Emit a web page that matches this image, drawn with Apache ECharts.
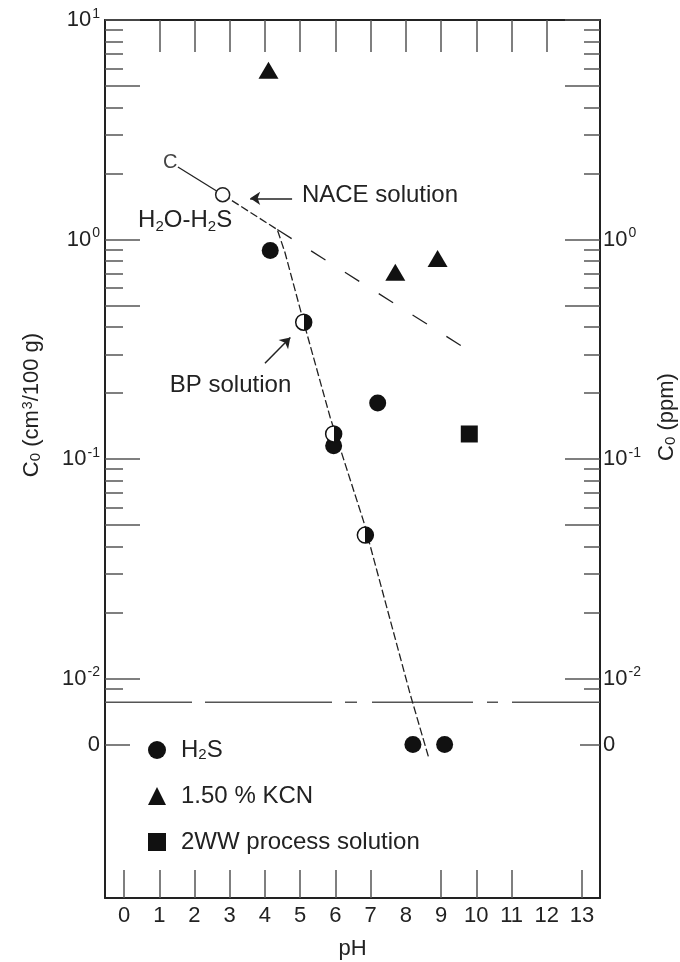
<!DOCTYPE html>
<html>
<head>
<meta charset="utf-8">
<script src="https://cdn.jsdelivr.net/npm/echarts@6/dist/echarts.min.js"></script>
<style>
  html, body { margin: 0; padding: 0; background: #fff; }
  #chart { width: 680px; height: 962px; }
</style>
</head>
<body>
<div id="chart"></div>
<script>
'use strict'

// broken log axis: the "0" row sits below the break at this axis value
const ZERO_AT = 0.005
const BREAK_AT = 0.0078

// pH, C0 (cm3/100 g)  -- value 0 means the "0" row
const h2sFilled = [[4.15, 0.89], [7.2, 0.18], [5.95, 0.115], [8.2, 0], [9.1, 0]]
const h2sHalf = [[5.1, 0.42], [5.95, 0.13], [6.85, 0.045]]
const naceOpen = [[2.8, 1.6]]
const kcn = [[4.1, 5.9], [7.7, 0.71], [8.9, 0.82]]
const process2ww = [[9.8, 0.13]]

// trend lines
const h2oLine = [[1.53, 2.14], [2.8, 1.6]]
const h2sLine = [[2.8, 1.6], [4.35, 1.11], [4.57, 0.87], [5.1, 0.42], [5.85, 0.155], [6.8, 0.052], [8.13, 0.0084], [8.64, 0.0044]]
const kcnLine = [[4.35, 1.11], [10.1, 0.29]]
const breakLine = [[-0.54, BREAK_AT], [13.51, BREAK_AT]]

// text notes and pointers
const noteText = ['C', 'H{sub|2}O-H{sub|2}S', 'NACE solution', 'BP solution']
const noteAt = [[1.31, 2.25], [0.4, 1.22], [5.05, 1.59], [1.3, 0.217]]
const nacePointer = [[4.77, 1.54], [3.58, 1.54]]
const bpPointer = [[4.0, 0.273], [4.72, 0.358]]

// axis ticks
const phLabels = [0, 1, 2, 3, 4, 5, 6, 7, 8, 9, 10, 11, 12, 13]
const phTicksBottom = [0, 1, 2, 3, 4, 5, 6, 7, 9, 10, 11, 13]
const phTicksTop = [1, 2, 3, 4, 5, 6, 7, 8, 9, 10, 11, 12]
const yLong = [10, 5, 1, 0.5, 0.1, 0.05, 0.01]
const yMinor = [9, 8, 7, 6, 4, 3, 2, 0.9, 0.8, 0.7, 0.6, 0.4, 0.3, 0.2,
  0.09, 0.08, 0.07, 0.06, 0.04, 0.03, 0.02, 0.009]
const yLabelsLeft = [10, 1, 0.1, 0.01, ZERO_AT]
const yLabelsRight = [1, 0.1, 0.01, ZERO_AT]

const INK = '#222'
const FONT = '"Liberation Sans", Arial, sans-serif'

const toPlot = p => [p[0], p[1] === 0 ? ZERO_AT : p[1]]

function decadeLabel (v) {
  if (Math.abs(Math.log10(v) - Math.log10(ZERO_AT)) < 0.01) return '0'
  const e = Math.round(Math.log10(v))
  return '10{sup|' + e + '}'
}

const supRich = {
  sup: { fontSize: 14, lineHeight: 14, verticalAlign: 'top', fontFamily: FONT, color: INK, padding: [0, 0, 6, 1] },
  sub: { fontSize: 15, lineHeight: 15, verticalAlign: 'bottom', fontFamily: FONT, color: INK, padding: [6, 0, 0, 0] }
}

function yAxisBase (position, ticks, len, extra) {
  return Object.assign({
    type: 'log',
    logBase: 10,
    min: 0.001,
    max: 10,
    position,
    axisLine: { show: false, onZero: false },
    splitLine: { show: false },
    axisTick: {
      show: true,
      inside: true,
      length: len,
      customValues: ticks,
      lineStyle: { color: '#555', width: 1.5 }
    },
    axisLabel: { show: false }
  }, extra || {})
}

const halfFill = {
  type: 'linear', x: 0, y: 0, x2: 1, y2: 0,
  colorStops: [
    { offset: 0, color: '#fff' }, { offset: 0.5, color: '#fff' },
    { offset: 0.5, color: '#111' }, { offset: 1, color: '#111' }
  ]
}

const chart = echarts.init(document.getElementById('chart'), null, { renderer: 'canvas' })

const option = {
  animation: false,
  backgroundColor: '#fff',
  textStyle: { fontFamily: FONT, color: INK },
  grid: { left: 105, right: 80, top: 20, bottom: 64, containLabel: false, outerBoundsMode: 'none' },
  legend: {
    data: ['H2S', '1.50 % KCN', '2WW process solution'],
    orient: 'vertical',
    left: 143,
    top: 733,
    itemWidth: 18,
    itemHeight: 18,
    itemGap: 22,
    selectedMode: false,
    formatter: n => n === 'H2S' ? 'H{sub|2}S' : n,
    textStyle: { fontSize: 24, color: INK, fontFamily: FONT, padding: [0, 0, 0, 10], rich: supRich }
  },
  xAxis: [
    {
      type: 'value',
      min: -0.54,
      max: 13.51,
      position: 'bottom',
      name: 'pH',
      nameLocation: 'middle',
      nameGap: 40,
      nameTextStyle: { fontSize: 22, color: INK, fontFamily: FONT },
      axisLine: { show: true, onZero: false, lineStyle: { color: INK, width: 2 } },
      splitLine: { show: false },
      axisTick: { show: true, inside: true, length: 28, customValues: phTicksBottom, lineStyle: { color: '#555', width: 1.5 } },
      axisLabel: { show: true, customValues: phLabels, fontSize: 22, color: INK, margin: 7, fontFamily: FONT }
    },
    {
      type: 'value',
      min: -0.54,
      max: 13.51,
      position: 'top',
      axisLine: { show: true, onZero: false, lineStyle: { color: INK, width: 2 } },
      splitLine: { show: false },
      axisTick: { show: true, inside: true, length: 32, customValues: phTicksTop, lineStyle: { color: '#555', width: 1.5 } },
      axisLabel: { show: false }
    }
  ],
  yAxis: [
    yAxisBase('left', yLong, 35, {
      axisLine: { show: true, onZero: false, lineStyle: { color: INK, width: 2 } },
      axisLabel: {
        show: true,
        customValues: yLabelsLeft,
        formatter: decadeLabel,
        fontSize: 22,
        lineHeight: 26,
        color: INK,
        margin: 5,
        fontFamily: FONT,
        rich: supRich
      },
      name: 'C{sub|0} (cm{sup|3}/100 g)',
      nameLocation: 'middle',
      nameRotate: 90,
      nameGap: 62,
      nameTextStyle: { fontSize: 22, color: INK, fontFamily: FONT, padding: [0, 0, 0, 108], rich: supRich }
    }),
    yAxisBase('left', yMinor, 18),
    yAxisBase('left', [ZERO_AT], 25),
    yAxisBase('right', yLong, 35, {
      axisLine: { show: true, onZero: false, lineStyle: { color: INK, width: 2 } },
      axisLabel: {
        show: true,
        customValues: yLabelsRight,
        formatter: decadeLabel,
        fontSize: 22,
        lineHeight: 26,
        color: INK,
        margin: 3,
        fontFamily: FONT,
        rich: supRich
      },
      name: 'C{sub|0} (ppm)',
      nameLocation: 'middle',
      nameRotate: 90,
      nameGap: 56,
      nameTextStyle: { fontSize: 22, color: INK, fontFamily: FONT, padding: [0, 0, 0, 84], rich: supRich }
    }),
    yAxisBase('right', yMinor, 16),
    yAxisBase('right', [ZERO_AT], 20)
  ],
  series: [
    {
      name: 'break',
      type: 'line',
      data: breakLine,
      symbol: 'none',
      silent: true,
      z: 1,
      lineStyle: { color: '#555', width: 1.5, type: [87, 13, 127, 13, 12, 15, 101, 14, 11, 14, 200] }
    },
    {
      name: 'h2o line',
      type: 'line',
      data: h2oLine,
      symbol: 'none',
      silent: true,
      z: 2,
      lineStyle: { color: INK, width: 1.3 }
    },
    {
      name: 'h2s line',
      type: 'line',
      data: h2sLine,
      symbol: 'none',
      silent: true,
      z: 2,
      lineStyle: { color: INK, width: 1.3, type: [8, 3] }
    },
    {
      name: 'kcn line',
      type: 'line',
      data: kcnLine,
      symbol: 'none',
      silent: true,
      z: 2,
      lineStyle: { color: INK, width: 1.3, type: [17, 23] }
    },
    {
      name: 'H2S',
      type: 'scatter',
      data: h2sFilled.map(toPlot),
      symbol: 'circle',
      symbolSize: 17,
      z: 5,
      itemStyle: { color: '#111', opacity: 1 }
    },
    {
      name: 'H2S half',
      type: 'scatter',
      data: h2sHalf.map(toPlot),
      symbol: 'circle',
      symbolSize: 16,
      z: 5,
      itemStyle: { color: halfFill, borderColor: '#111', borderWidth: 1.5, opacity: 1 }
    },
    {
      name: 'NACE',
      type: 'scatter',
      data: naceOpen,
      symbol: 'circle',
      symbolSize: 14,
      z: 5,
      itemStyle: { color: '#fff', borderColor: INK, borderWidth: 1.5, opacity: 1 }
    },
    {
      name: '1.50 % KCN',
      type: 'scatter',
      data: kcn,
      symbol: 'triangle',
      symbolSize: [20, 17],
      z: 5,
      itemStyle: { color: '#111', opacity: 1 }
    },
    {
      name: '2WW process solution',
      type: 'scatter',
      data: process2ww,
      symbol: 'rect',
      symbolSize: 17,
      z: 5,
      itemStyle: { color: '#111', opacity: 1 }
    },
    {
      name: 'notes',
      type: 'scatter',
      symbolSize: 0,
      silent: true,
      z: 6,
      itemStyle: { opacity: 1 },
      data: noteAt.map((p, i) => ({
        value: p,
        label: {
          show: true,
          formatter: noteText[i],
          position: i === 0 ? 'inside' : 'right',
          distance: 0,
          fontSize: i === 0 ? 20 : 24,
          lineHeight: 28,
          color: i === 0 ? '#444' : INK,
          fontFamily: FONT,
          rich: supRich
        }
      })),
      markLine: {
        silent: true,
        symbol: ['none', 'arrow'],
        symbolSize: 10,
        label: { show: false },
        lineStyle: { color: INK, width: 1.5, type: 'solid' },
        data: [
          [{ coord: nacePointer[0] }, { coord: nacePointer[1] }],
          [{ coord: bpPointer[0], lineStyle: { curveness: 0.2 } }, { coord: bpPointer[1] }]
        ]
      }
    }
  ]
}

chart.setOption(option)
</script>
</body>
</html>
